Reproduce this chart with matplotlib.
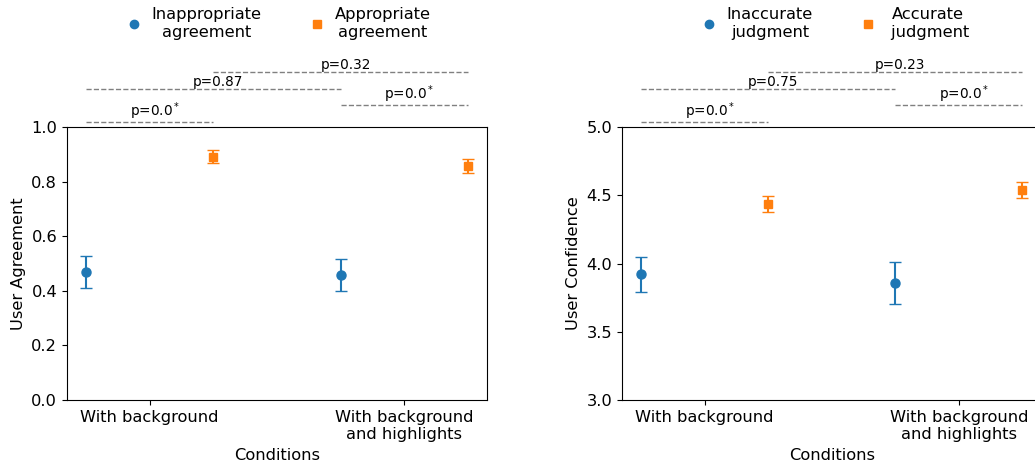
import matplotlib
matplotlib.use('Agg')
import matplotlib.pyplot as plt
from matplotlib.lines import Line2D
import numpy as np

# conditions on the x axis
conditions = ['With background', 'With background\nand highlights']

# panel 1: user agreement (mean, error)
agree_bad = [0.470, 0.457]
agree_bad_err = [0.058, 0.058]
agree_good = [0.891, 0.857]
agree_good_err = [0.024, 0.027]

# panel 2: user confidence (mean, error)
conf_bad = [3.921, 3.857]
conf_bad_err = [0.127, 0.152]
conf_good = [4.438, 4.536]
conf_good_err = [0.058, 0.058]

# p-values: (x from, x to, level in axes fraction, label)
pvals_agree = [(-0.25, 0.25, 1.02, r'p=0.0$^*$'), (0.75, 1.25, 1.08, r'p=0.0$^*$'),
               (-0.25, 0.75, 1.14, 'p=0.87'), (0.25, 1.25, 1.20, 'p=0.32')]
pvals_conf = [(-0.25, 0.25, 1.02, r'p=0.0$^*$'), (0.75, 1.25, 1.08, r'p=0.0$^*$'),
              (-0.25, 0.75, 1.14, 'p=0.75'), (0.25, 1.25, 1.20, 'p=0.23')]

fs = 11.7
blue = '#1f77b4'
orange = '#ff7f0e'

fig = plt.figure(figsize=(10.35, 4.68), dpi=100)
ax1 = fig.add_axes([0.0647, 0.1453, 0.4058, 0.5833])
# right panel runs a bit past the figure edge, as in the cropped original
ax2 = fig.add_axes([0.601, 0.1453, 0.4053, 0.5833])


def draw_panel(ax, bad, bad_err, good, good_err, pvals, ylabel, ylim, yticks, labels, leg_x):
    x = np.arange(len(conditions))
    ax.errorbar(x - 0.25, bad, yerr=bad_err, fmt='o', color=blue, ms=6.5, capsize=4, lw=1.5)
    ax.errorbar(x + 0.25, good, yerr=good_err, fmt='s', color=orange, ms=6, capsize=4, lw=1.5)
    ax.set_ylim(*ylim)
    ax.set_yticks(yticks)
    ax.set_xticks(x)
    ax.set_xticklabels(conditions, fontsize=fs)
    for t in ax.get_xticklabels():
        t.set_multialignment('center')
    ax.tick_params(axis='y', labelsize=fs)
    ax.set_ylabel(ylabel, fontsize=fs)
    ax.set_xlabel('Conditions', fontsize=fs)
    trans = ax.get_xaxis_transform()
    for x0, x1, lev, lab in pvals:
        ax.plot([x0, x1], [lev, lev], ls='--', color='gray', lw=1, transform=trans, clip_on=False)
        ax.text((x0 + x1) / 2 + 0.02, lev, lab, ha='center', va='bottom', fontsize=9.8, transform=trans)
    handles = [Line2D([], [], ls='none', marker='o', color=blue, ms=6),
               Line2D([], [], ls='none', marker='s', color=orange, ms=5.5)]
    leg = ax.legend(handles, labels, loc='upper center', ncol=2, frameon=False, fontsize=fs,
                    bbox_to_anchor=(leg_x, 1.005), bbox_transform=fig.transFigure,
                    handletextpad=0.08, columnspacing=2.4, borderpad=0.1, labelspacing=0.3)
    for t in leg.get_texts():
        t.set_multialignment('center')


draw_panel(ax1, agree_bad, agree_bad_err, agree_good, agree_good_err, pvals_agree,
           'User Agreement', (0, 1.0), [0, 0.2, 0.4, 0.6, 0.8, 1.0],
           ['Inappropriate\nagreement', 'Appropriate\nagreement'], 0.2650)
draw_panel(ax2, conf_bad, conf_bad_err, conf_good, conf_good_err, pvals_conf,
           'User Confidence', (3.0, 5.0), [3.0, 3.5, 4.0, 4.5, 5.0],
           ['Inaccurate\njudgment', 'Accurate\n judgment'], 0.803)

fig.savefig('out.png', dpi=100)
